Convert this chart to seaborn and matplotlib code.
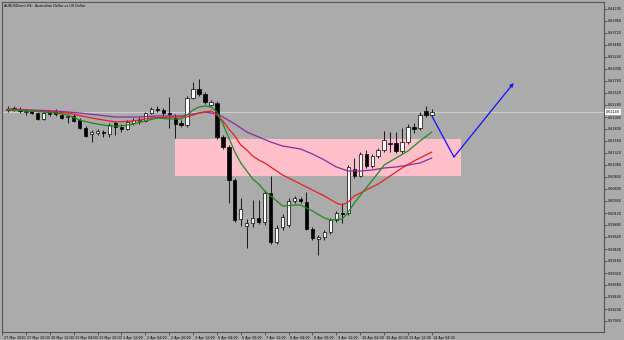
import matplotlib
matplotlib.use("Agg")
import matplotlib.pyplot as plt
import seaborn as sns
import pandas as pd
import numpy as np
from matplotlib.transforms import ScaledTranslation, blended_transform_factory

# ---------------- data ----------------
bar_index = list(range(72))
open_ = [0.6218, 0.6222, 0.6218, 0.6214, 0.6216, 0.6212, 0.6200, 0.6212, 0.6216, 0.6208,
         0.6204, 0.6206, 0.6198, 0.6182, 0.6170, 0.6172, 0.6174, 0.6170, 0.6192, 0.6184,
         0.6180, 0.6192, 0.6196, 0.6196, 0.6212, 0.6220, 0.6218, 0.6212, 0.6202, 0.6192,
         0.6188, 0.6242, 0.6260, 0.6250, 0.6228, 0.6232, 0.6164, 0.6144, 0.6078, 0.6000,
         0.5986, 0.5992, 0.6002, 0.5994, 0.6052, 0.5954, 0.5984, 0.5988, 0.6036, 0.6040,
         0.6034, 0.5980, 0.5960, 0.5964, 0.5974, 0.5998, 0.6012, 0.6012, 0.6100, 0.6086,
         0.6130, 0.6106, 0.6126, 0.6138, 0.6152, 0.6152, 0.6136, 0.6154, 0.6184, 0.6182,
         0.6216, 0.6208]
high = [0.6226, 0.6226, 0.6224, 0.6220, 0.6218, 0.6214, 0.6216, 0.6216, 0.6220, 0.6212,
        0.6210, 0.6210, 0.6202, 0.6186, 0.6178, 0.6180, 0.6178, 0.6192, 0.6196, 0.6190,
        0.6198, 0.6202, 0.6204, 0.6214, 0.6224, 0.6226, 0.6222, 0.6244, 0.6210, 0.6198,
        0.6246, 0.6274, 0.6280, 0.6254, 0.6238, 0.6236, 0.6168, 0.6148, 0.6082, 0.6042,
        0.6000, 0.6038, 0.6038, 0.6058, 0.6086, 0.5988, 0.6010, 0.6042, 0.6046, 0.6044,
        0.6054, 0.5984, 0.5968, 0.5978, 0.6002, 0.6016, 0.6032, 0.6108, 0.6122, 0.6134,
        0.6138, 0.6130, 0.6142, 0.6176, 0.6174, 0.6174, 0.6182, 0.6190, 0.6192, 0.6214,
        0.6226, 0.6220]
low = [0.6214, 0.6216, 0.6212, 0.6208, 0.6210, 0.6198, 0.6198, 0.6206, 0.6206, 0.6200,
       0.6192, 0.6194, 0.6180, 0.6164, 0.6154, 0.6168, 0.6164, 0.6164, 0.6168, 0.6174,
       0.6178, 0.6188, 0.6190, 0.6194, 0.6210, 0.6214, 0.6206, 0.6182, 0.6162, 0.6184,
       0.6184, 0.6240, 0.6246, 0.6230, 0.6226, 0.6160, 0.6140, 0.6032, 0.5994, 0.5986,
       0.5942, 0.5984, 0.5990, 0.5988, 0.5950, 0.5950, 0.5978, 0.5984, 0.6032, 0.6032,
       0.5978, 0.5958, 0.5928, 0.5958, 0.5970, 0.5994, 0.5992, 0.6008, 0.6082, 0.6084,
       0.6102, 0.6102, 0.6122, 0.6134, 0.6134, 0.6132, 0.6132, 0.6150, 0.6172, 0.6178,
       0.6204, 0.6206]
close = [0.6220, 0.6218, 0.6216, 0.6216, 0.6212, 0.6200, 0.6212, 0.6210, 0.6210, 0.6202,
         0.6206, 0.6196, 0.6182, 0.6166, 0.6174, 0.6176, 0.6172, 0.6188, 0.6184, 0.6180,
         0.6194, 0.6198, 0.6198, 0.6212, 0.6220, 0.6218, 0.6212, 0.6210, 0.6190, 0.6188,
         0.6242, 0.6260, 0.6250, 0.6234, 0.6234, 0.6164, 0.6144, 0.6078, 0.5998, 0.6020,
         0.5992, 0.6002, 0.5994, 0.6052, 0.5954, 0.5982, 0.6004, 0.6036, 0.6042, 0.6036,
         0.5980, 0.5962, 0.5964, 0.5974, 0.5998, 0.6012, 0.6010, 0.6104, 0.6086, 0.6130,
         0.6106, 0.6126, 0.6138, 0.6158, 0.6150, 0.6136, 0.6154, 0.6184, 0.6180, 0.6208,
         0.6208, 0.6214]

fast_ma_index = [0, 4, 8, 10, 12, 14, 17, 19, 21, 23, 25, 27, 29, 30, 31, 32, 33, 34, 35, 36,
                 37, 38, 39, 40, 41, 42, 43, 44, 46, 48, 49, 51, 53, 54, 56, 57, 58, 60, 62, 63,
                 65, 67, 69, 71]
fast_ma = [0.6218, 0.6216, 0.6212, 0.6208, 0.6198, 0.6192, 0.6186, 0.6186, 0.6190, 0.6196,
           0.6202, 0.6200, 0.6200, 0.6208, 0.6218, 0.6224, 0.6226, 0.6224, 0.6214, 0.6190,
           0.6162, 0.6134, 0.6112, 0.6096, 0.6080, 0.6070, 0.6056, 0.6046, 0.6026, 0.6028,
           0.6028, 0.6016, 0.6002, 0.5998, 0.6000, 0.6014, 0.6032, 0.6062, 0.6092, 0.6108,
           0.6122, 0.6136, 0.6156, 0.6174]

mid_ma_index = [0, 4, 8, 10, 14, 18, 21, 24, 28, 30, 31, 32, 33, 34, 35, 36, 37, 38, 39, 40,
                41, 42, 43, 44, 45, 46, 47, 48, 49, 51, 53, 55, 56, 57, 58, 60, 62, 64, 66, 68,
                70, 71]
mid_ma = [0.6220, 0.6216, 0.6214, 0.6212, 0.6202, 0.6194, 0.6196, 0.6202, 0.6204, 0.6204,
          0.6208, 0.6212, 0.6214, 0.6216, 0.6208, 0.6196, 0.6180, 0.6166, 0.6148, 0.6138,
          0.6126, 0.6118, 0.6112, 0.6104, 0.6096, 0.6088, 0.6082, 0.6076, 0.6070, 0.6058,
          0.6046, 0.6032, 0.6028, 0.6034, 0.6046, 0.6058, 0.6070, 0.6086, 0.6102, 0.6116,
          0.6128, 0.6134]

slow_ma_index = [0, 8, 12, 15, 18, 22, 25, 29, 31, 33, 35, 36, 38, 40, 42, 44, 46, 48, 49, 51,
                 53, 55, 57, 59, 61, 63, 65, 67, 69, 71]
slow_ma = [0.6220, 0.6216, 0.6212, 0.6208, 0.6204, 0.6204, 0.6206, 0.6206, 0.6210, 0.6214,
           0.6210, 0.6204, 0.6190, 0.6174, 0.6164, 0.6154, 0.6146, 0.6142, 0.6140, 0.6130,
           0.6118, 0.6104, 0.6096, 0.6096, 0.6098, 0.6102, 0.6104, 0.6108, 0.6112, 0.6122]

zone_time = [28, 75.8]
zone_price = [0.6086, 0.6160]

arrow_time = [71, 74.7, 84.7]
arrow_price = [0.6206, 0.6124, 0.6272]

bid_price = 0.6214

price_ticks = [round(0.6420 - 0.0024 * j, 4) for j in range(27)]
date_tick_pos = [-1, 3, 7, 11, 15, 19, 23, 27, 31, 35, 39, 43, 47, 51, 55, 59, 63, 67, 71]
date_tick_labels = ["27 Mar 2020", "27 Mar 20:00", "30 Mar 12:00", "31 Mar 04:00", "31 Mar 20:00",
                    "1 Apr 12:00", "2 Apr 04:00", "2 Apr 20:00", "3 Apr 12:00", "6 Apr 04:00",
                    "6 Apr 20:00", "7 Apr 12:00", "8 Apr 04:00", "8 Apr 20:00", "9 Apr 12:00",
                    "10 Apr 04:00", "10 Apr 20:00", "13 Apr 12:00", "14 Apr 04:00"]
title_text = "AUDUSDcent,H4:  Australian Dollar vs US Dollar"

# ---------------- drawing ----------------
sns.set_theme(style="white")
plt.rcParams["font.family"] = ["DejaVu Sans"]
BG = "#ababab"
W, H = 624, 340
fig = plt.figure(figsize=(W / 100, H / 100), dpi=100, facecolor=BG)
ax = fig.add_axes([2 / W, 1 - 332 / H, 602 / W, 330 / H])
ax.set_facecolor(BG)

ax.set_xlim(-0.5, 99.83)
ax.set_ylim(0.5774, 0.6434)

# supply / demand zone
ax.add_patch(plt.Rectangle((zone_time[0], zone_price[0]), zone_time[1] - zone_time[0],
                           zone_price[1] - zone_price[0], facecolor="#ffc0cb",
                           edgecolor="none", zorder=1))

# bid line
ax.axhline(bid_price, color="#cfcfcf", lw=0.8, zorder=1.5)

df = pd.DataFrame({"t": bar_index, "o": open_, "h": high, "l": low, "c": close})
up = df["c"] >= df["o"]
ax.vlines(df["t"], df["l"], df["h"], color="black", lw=0.6, zorder=2)
bottoms = np.minimum(df["o"], df["c"])
heights = np.maximum(np.abs(df["c"] - df["o"]), 0.00008)
ax.bar(df["t"][up], heights[up], bottom=bottoms[up], width=0.55, color="white",
       edgecolor="black", linewidth=0.5, zorder=3)
ax.bar(df["t"][~up], heights[~up], bottom=bottoms[~up], width=0.55, color="black",
       edgecolor="black", linewidth=0.5, zorder=3)

ma_df = pd.concat([
    pd.DataFrame({"t": slow_ma_index, "v": slow_ma, "ma": "slow"}),
    pd.DataFrame({"t": mid_ma_index, "v": mid_ma, "ma": "mid"}),
    pd.DataFrame({"t": fast_ma_index, "v": fast_ma, "ma": "fast"}),
])
sns.lineplot(data=ma_df, x="t", y="v", hue="ma", sort=False, estimator=None,
             palette={"slow": "#8e2aa0", "mid": "#e8201e", "fast": "#1f8a1f"},
             linewidth=0.9, legend=False, ax=ax, zorder=4)

# blue projection
ax.plot(arrow_time[:2], arrow_price[:2], color="#1010ff", lw=0.9, zorder=5)
ax.annotate("", xy=(arrow_time[2], arrow_price[2]), xytext=(arrow_time[1], arrow_price[1]),
            arrowprops=dict(arrowstyle="-|>", color="#1010ff", lw=0.9, mutation_scale=5,
                            shrinkA=0, shrinkB=0), zorder=5)

# axes styling
for s in ax.spines.values():
    s.set_color("#555555")
    s.set_linewidth(0.8)
ax.yaxis.tick_right()
ax.set_yticks(price_ticks)
ax.set_yticklabels([f"{p:.5f}" for p in price_ticks])
ax.set_xticks(date_tick_pos)
ax.set_xticklabels(date_tick_labels)
ax.tick_params(axis="y", right=True, left=False, length=2, width=0.5, color="#333333",
               labelsize=2.4, pad=1, labelcolor="black")
ax.tick_params(axis="x", bottom=True, length=2, width=0.5, color="#333333",
               labelsize=2.4, pad=0.6, labelcolor="black")
off = ScaledTranslation(1.5 / 100, 0, fig.dpi_scale_trans)
for lab in ax.get_xticklabels():
    lab.set_horizontalalignment("left")
    lab.set_transform(lab.get_transform() + off)
ax.set_xlabel("")
ax.set_ylabel("")

# bid price label on the axis
tr = blended_transform_factory(ax.transAxes, ax.transData)
ax.text(1.003, bid_price, f"{bid_price:.5f}", transform=tr, fontsize=2.4, va="center",
        ha="left", color="black", clip_on=False,
        bbox=dict(boxstyle="square,pad=0.25", facecolor="white", edgecolor="none"))

ax.text(0.004, 0.993, title_text, transform=ax.transAxes, fontsize=2.4, va="top",
        ha="left", color="black")

fig.savefig("out.png", dpi=100, facecolor=BG)
